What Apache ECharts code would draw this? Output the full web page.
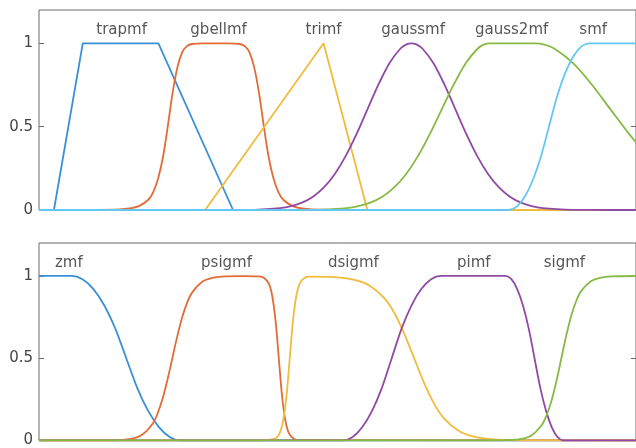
<!DOCTYPE html>
<html>
<head>
<meta charset="utf-8">
<script src="https://cdn.jsdelivr.net/npm/echarts@6/dist/echarts.min.js"></script>
<style>html,body{margin:0;padding:0;background:#fff}#c{width:636px;height:448px}</style>
</head>
<body>
<div id="c"></div>
<script>
// ---- data (x in plot units, y = membership) ----
const yTicks = [0, 0.5, 1];

const trapmf = [[0,0],[0.15,0],[0.44,1],[1.20,1],[1.95,0],[6,0]];
const gbellmf = [[0,0],[0.5,0.001],[0.811,0.004],[0.907,0.009],[1.004,0.023],[1.101,0.063],[1.149,0.109],[1.197,0.189],[1.246,0.318],[1.294,0.5],[1.342,0.70],[1.391,0.856],[1.439,0.946],[1.487,0.983],[1.537,0.996],[1.657,1],[1.777,1],[1.897,1],[2.017,0.996],[2.067,0.983],[2.115,0.946],[2.163,0.856],[2.212,0.70],[2.26,0.5],[2.308,0.318],[2.357,0.189],[2.405,0.109],[2.453,0.063],[2.55,0.023],[2.647,0.009],[2.743,0.004],[3.1,0.001],[6,0]];
const trimf = [[0,0],[1.67,0],[2.86,1],[3.30,0],[6,0]];
const gaussmf = [[0,0],[1.5,0.0001],[1.983,0.0003],[2.203,0.0022],[2.423,0.0111],[2.533,0.0228],[2.643,0.0439],[2.753,0.0796],[2.863,0.1353],[2.973,0.216],[3.083,0.3247],[3.193,0.458],[3.303,0.6065],[3.413,0.7548],[3.523,0.8825],[3.633,0.969],[3.688,0.992],[3.743,1],[3.798,0.992],[3.853,0.969],[3.963,0.8825],[4.073,0.7548],[4.183,0.6065],[4.293,0.458],[4.403,0.3247],[4.513,0.216],[4.623,0.1353],[4.733,0.0796],[4.843,0.0439],[4.953,0.0228],[5.063,0.0111],[5.283,0.0022],[5.503,0.0003],[6,0]];
const gauss2mf = [[0,0],[2.61,0.0003],[2.85,0.0022],[3.09,0.0111],[3.21,0.0228],[3.33,0.0439],[3.45,0.0796],[3.57,0.1353],[3.69,0.216],[3.81,0.3247],[3.93,0.458],[4.05,0.6065],[4.17,0.7548],[4.29,0.8825],[4.41,0.969],[4.47,0.992],[4.53,1],[4.76,1],[4.99,1],[5.08,0.992],[5.178,0.969],[5.365,0.8825],[5.553,0.7548],[5.74,0.6065],[5.928,0.458],[6.115,0.3247]];
const smf = [[0,0],[4.72,0],[4.801,0.02],[4.882,0.08],[4.963,0.18],[5.044,0.32],[5.125,0.5],[5.206,0.68],[5.287,0.82],[5.368,0.92],[5.449,0.98],[5.53,1],[6,1]];

const zmf = [[0,1],[0.327,1],[0.437,0.98],[0.547,0.92],[0.657,0.82],[0.767,0.68],[0.877,0.5],[0.987,0.32],[1.097,0.18],[1.207,0.08],[1.317,0.02],[1.427,0],[6,0]];
const psigmf = [[0,0],[0.74,0.001],[0.94,0.012],[1.04,0.036],[1.14,0.10],[1.19,0.161],[1.24,0.25],[1.29,0.366],[1.34,0.5],[1.39,0.634],[1.44,0.75],[1.49,0.839],[1.54,0.90],[1.64,0.964],[1.74,0.988],[1.84,0.996],[2.04,0.999],[2.21,0.997],[2.26,0.989],[2.31,0.953],[2.343,0.881],[2.377,0.731],[2.41,0.5],[2.443,0.269],[2.477,0.119],[2.51,0.047],[2.56,0.011],[2.61,0.0025],[6,0]];
const dsigmf = [[0,0],[2.2,0.0001],[2.37,0.011],[2.42,0.047],[2.453,0.119],[2.487,0.269],[2.52,0.5],[2.553,0.731],[2.587,0.881],[2.62,0.953],[2.67,0.989],[2.72,0.996],[2.97,0.993],[3.17,0.976],[3.32,0.942],[3.47,0.865],[3.57,0.776],[3.67,0.65],[3.77,0.5],[3.87,0.35],[3.97,0.224],[4.07,0.135],[4.22,0.058],[4.37,0.024],[4.57,0.007],[4.77,0.002],[6,0]];
const pimf = [[0,0],[3.05,0],[3.149,0.02],[3.248,0.08],[3.347,0.18],[3.446,0.32],[3.545,0.5],[3.644,0.68],[3.743,0.82],[3.842,0.92],[3.941,0.98],[4.04,1],[4.69,1],[4.748,0.98],[4.806,0.92],[4.864,0.82],[4.922,0.68],[4.98,0.5],[5.038,0.32],[5.096,0.18],[5.154,0.08],[5.212,0.02],[5.27,0],[6,0]];
const sigmf = [[0,0],[4.25,0],[4.75,0.003],[4.85,0.01],[4.95,0.031],[5.05,0.091],[5.10,0.151],[5.15,0.24],[5.20,0.36],[5.25,0.5],[5.30,0.64],[5.35,0.76],[5.40,0.849],[5.45,0.909],[5.55,0.969],[5.65,0.99],[5.75,0.997],[6,0.9995]];

const topNames = ['trapmf','gbellmf','trimf','gaussmf','gauss2mf','smf'];
const topLabelX = [0.83, 1.805, 2.86, 3.76, 4.75, 5.57];
const bottomNames = ['zmf','psigmf','dsigmf','pimf','sigmf'];
const bottomLabelX = [0.30, 1.885, 3.16, 4.37, 5.28];
const labelY = 1.08;
// -------------------------------------------------------------------------

const colors = ['#3a90d8','#e36b36','#efbc3c','#914aa3','#86ba44','#62c8f2'];
const FONT = 'DejaVu Sans';
const frame = '#6a6a6a';

const topSeries = [trapmf, gbellmf, trimf, gaussmf, gauss2mf, smf];
const topSmooth = [false, 0.3, false, 0.3, 0.3, 0.3];
const bottomSeries = [zmf, psigmf, dsigmf, pimf, sigmf];
const bottomColors = [colors[0], colors[1], colors[2], colors[3], colors[4]];

function yAxes(gi) {
  const base = {
    type: 'value', gridIndex: gi, min: 0, max: 1.2,
    splitLine: { show: false },
    axisLine: { show: false },
    axisTick: { show: true, inside: true, length: 5, customValues: yTicks, lineStyle: { color: frame, width: 1 } }
  };
  return [
    Object.assign({}, base, {
      position: 'left',
      axisLabel: { show: true, customValues: yTicks, margin: 6, color: '#444', fontSize: 15, fontFamily: FONT }
    }),
    Object.assign({}, base, {
      position: 'right',
      axisLabel: { show: false }
    })
  ];
}

const series = [];
topSeries.forEach((d, i) => {
  series.push({
    type: 'line', xAxisIndex: 0, yAxisIndex: 0, data: d, showSymbol: false, symbol: 'none',
    smooth: topSmooth[i], lineStyle: { color: colors[i], width: 1.8 }, itemStyle: { color: colors[i] },
    animation: false, silent: true
  });
});
series.push({
  type: 'scatter', xAxisIndex: 0, yAxisIndex: 0, symbolSize: 0, animation: false, silent: true,
  data: topNames.map((n, i) => ({ name: n, value: [topLabelX[i], labelY] })),
  label: { show: true, position: 'inside', formatter: p => p.name, color: '#2a2a2a', fontSize: 15, fontFamily: FONT }
});
bottomSeries.forEach((d, i) => {
  series.push({
    type: 'line', xAxisIndex: 1, yAxisIndex: 2, data: d, showSymbol: false, symbol: 'none',
    smooth: 0.3, lineStyle: { color: bottomColors[i], width: 1.8 }, itemStyle: { color: bottomColors[i] },
    animation: false, silent: true
  });
});
series.push({
  type: 'scatter', xAxisIndex: 1, yAxisIndex: 2, symbolSize: 0, animation: false, silent: true,
  data: bottomNames.map((n, i) => ({ name: n, value: [bottomLabelX[i], labelY] })),
  label: { show: true, position: 'inside', formatter: p => p.name, color: '#2a2a2a', fontSize: 15, fontFamily: FONT }
});

const xBase = {
  type: 'value', min: 0, max: 6,
  axisLine: { show: false }, axisTick: { show: false }, axisLabel: { show: false }, splitLine: { show: false }
};

const chart = echarts.init(document.getElementById('c'), null, { renderer: 'canvas' });
chart.setOption({
  animation: false,
  backgroundColor: '#fff',
  grid: [
    { left: 39, top: 10, width: 600, height: 200, show: true, borderColor: frame, borderWidth: 1, backgroundColor: 'transparent' },
    { left: 39, top: 243, width: 600, height: 198, show: true, borderColor: frame, borderWidth: 1, backgroundColor: 'transparent' }
  ],
  xAxis: [Object.assign({ gridIndex: 0 }, xBase), Object.assign({ gridIndex: 1 }, xBase)],
  yAxis: yAxes(0).concat(yAxes(1)),
  series: series
});
</script>
</body>
</html>
